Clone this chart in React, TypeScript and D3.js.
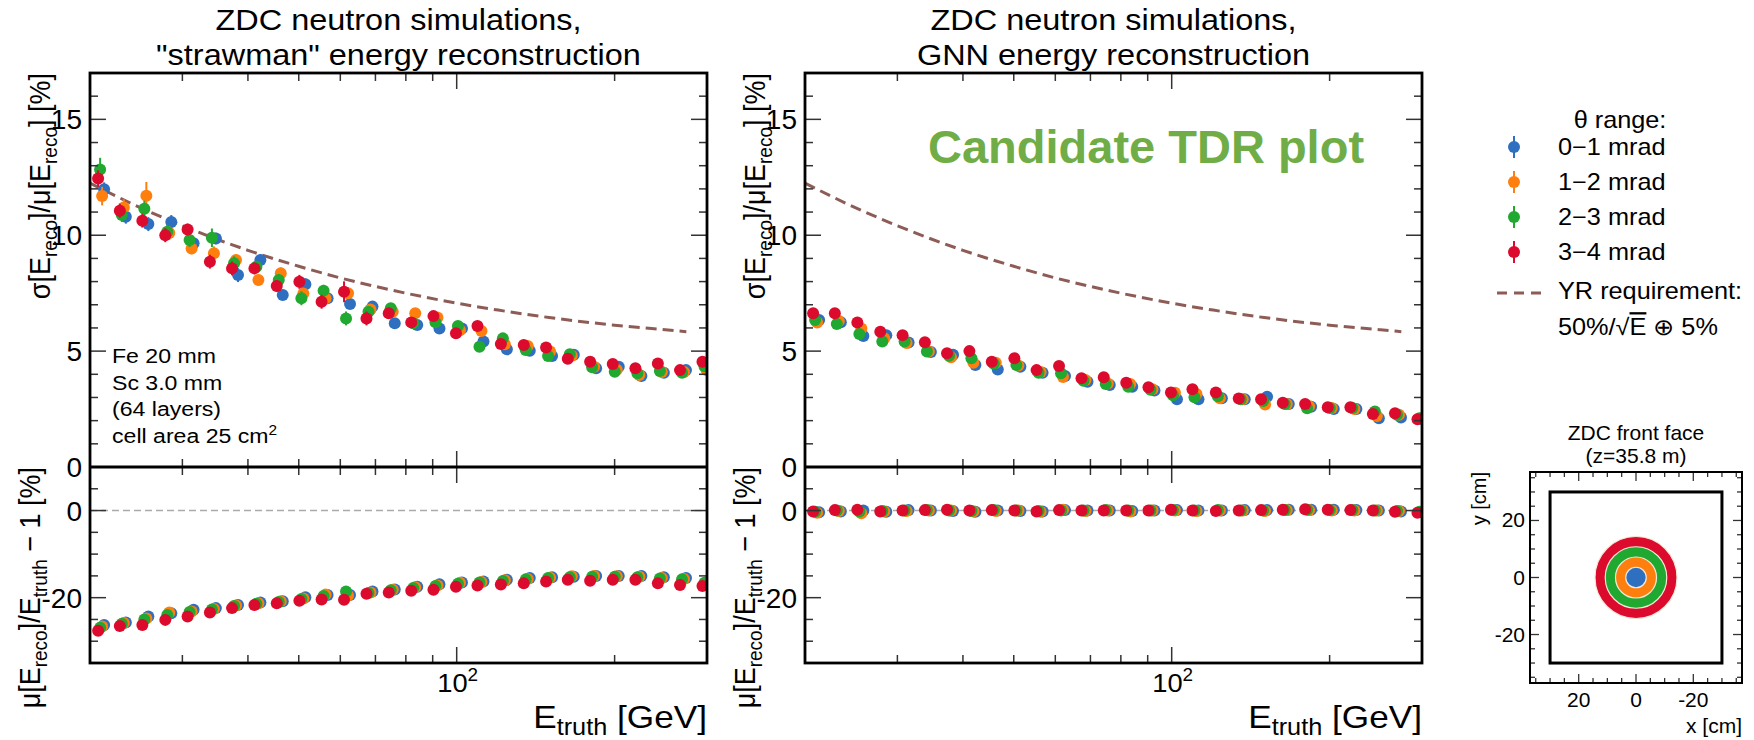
import React from 'react';
import * as d3 from 'd3';

// ---------------- data ----------------
const energies = [21.0, 23.1, 25.5, 28.2, 31.1, 34.3, 37.8, 41.7, 46.0, 50.8, 56.0, 61.8, 68.2, 75.2, 83.0, 91.5, 101, 111, 123, 136, 150, 165, 182, 201, 222, 245, 270, 298];

const seriesNames = ['0\u22121 mrad', '1\u22122 mrad', '2\u22123 mrad', '3\u22124 mrad'];
const seriesColors = ['#2f6fc0', '#ff7f0e', '#20a830', '#dc0a2c'];

// strawman: resolution [%]
const strawResBlue = [11.98, 10.80, 10.48, 10.57, 9.65, 9.86, 8.28, 8.93, 7.42, 7.89, 7.28, 7.03, 6.92, 6.20, 6.13, 5.98, 5.98, 5.41, 5.08, 5.02, 4.79, 4.84, 4.26, 4.33, 3.93, 4.07, 4.18, 4.30];
const strawResOrange = [11.69, 11.20, 11.70, 10.10, 9.43, 9.22, 8.93, 8.07, 8.36, 7.49, 7.28, 7.50, 6.80, 6.70, 6.63, 6.45, 5.90, 5.87, 5.30, 5.22, 4.98, 4.80, 4.33, 4.20, 3.97, 4.10, 4.10, 4.18];
const strawResGreen = [12.84, 10.87, 11.14, 10.15, 9.79, 9.89, 8.79, 8.64, 8.07, 7.28, 7.61, 6.41, 6.70, 6.85, 6.20, 6.25, 6.08, 5.19, 5.55, 5.05, 4.79, 4.87, 4.30, 4.11, 4.05, 4.14, 4.07, 4.35];
const strawResRed = [12.45, 11.06, 10.63, 10.00, 10.25, 8.86, 8.57, 8.57, 7.81, 7.99, 7.13, 7.56, 6.41, 6.63, 6.24, 6.51, 5.77, 6.08, 5.31, 5.26, 5.16, 4.67, 4.54, 4.44, 4.26, 4.47, 4.18, 4.54];

const strawErrBlue = [0.30, 0.30, 0.30, 0.30, 0.25, 0.25, 0.30, 0.25, 0.20, 0.25, 0.20, 0.20, 0.20, 0.15, 0.15, 0.15, 0.15, 0.15, 0.12, 0.12, 0.12, 0.10, 0.10, 0.10, 0.10, 0.10, 0.10, 0.10];
const strawErrOrange = [0.40, 0.35, 0.60, 0.30, 0.25, 0.30, 0.25, 0.25, 0.25, 0.20, 0.20, 0.25, 0.20, 0.15, 0.20, 0.15, 0.15, 0.15, 0.12, 0.12, 0.12, 0.10, 0.10, 0.10, 0.10, 0.10, 0.10, 0.10];
const strawErrGreen = [0.50, 0.30, 0.35, 0.30, 0.30, 0.40, 0.30, 0.25, 0.25, 0.30, 0.25, 0.30, 0.20, 0.20, 0.15, 0.15, 0.15, 0.15, 0.15, 0.12, 0.12, 0.12, 0.10, 0.10, 0.10, 0.10, 0.10, 0.10];
const strawErrRed = [0.35, 0.30, 0.30, 0.30, 0.25, 0.30, 0.30, 0.25, 0.25, 0.30, 0.30, 0.45, 0.30, 0.20, 0.20, 0.15, 0.15, 0.15, 0.12, 0.12, 0.12, 0.10, 0.10, 0.10, 0.10, 0.10, 0.10, 0.10];

// strawman: bias [%]
const strawBiasBlue = [-26.3, -25.7, -24.3, -23.6, -22.8, -22.4, -21.7, -21.1, -20.8, -19.9, -19.4, -19.4, -18.6, -18.1, -17.5, -16.9, -16.5, -16.3, -15.9, -15.5, -15.3, -15.2, -15.0, -15.0, -15.0, -15.3, -15.5, -16.4];
const strawBiasOrange = [-26.6, -25.8, -24.8, -23.4, -23.2, -22.6, -21.8, -21.3, -20.8, -20.2, -19.3, -19.5, -18.8, -18.2, -17.6, -17.2, -16.6, -16.4, -16.0, -15.7, -15.4, -15.1, -15.0, -15.1, -15.2, -15.5, -15.7, -16.5];
const strawBiasGreen = [-26.9, -26.0, -25.0, -24.0, -23.3, -22.7, -21.9, -21.4, -21.0, -20.3, -19.6, -18.6, -18.9, -18.3, -17.8, -17.3, -16.8, -16.5, -16.2, -15.8, -15.5, -15.3, -15.2, -15.2, -15.3, -15.6, -15.8, -16.6];
const strawBiasRed = [-27.6, -26.5, -26.3, -25.1, -24.3, -23.4, -22.4, -21.7, -21.3, -20.7, -20.4, -20.5, -19.1, -18.8, -18.4, -18.2, -17.5, -17.2, -17.0, -16.7, -16.3, -15.9, -16.1, -15.9, -15.9, -16.7, -17.1, -17.3];

// GNN: resolution [%]
const gnnResBlue = [6.34, 6.25, 5.65, 5.69, 5.37, 4.96, 4.84, 4.40, 4.21, 4.33, 4.07, 3.93, 3.68, 3.54, 3.46, 3.30, 2.92, 2.92, 2.97, 2.92, 3.03, 2.72, 2.60, 2.50, 2.50, 2.10, 2.14, 2.05];
const gnnResOrange = [6.23, 6.30, 5.98, 5.55, 5.35, 4.98, 4.74, 4.50, 4.50, 4.38, 4.10, 3.88, 3.75, 3.60, 3.58, 3.35, 3.20, 3.15, 2.97, 2.92, 2.70, 2.72, 2.62, 2.55, 2.50, 2.20, 2.25, 2.10];
const gnnResGreen = [6.34, 6.17, 5.74, 5.41, 5.41, 4.98, 4.80, 4.69, 4.45, 4.40, 4.07, 4.04, 3.72, 3.58, 3.46, 3.33, 3.10, 3.01, 3.05, 2.92, 2.85, 2.72, 2.53, 2.55, 2.55, 2.39, 2.25, 2.10];
const gnnResRed = [6.63, 6.63, 6.23, 5.84, 5.69, 5.38, 4.91, 5.00, 4.54, 4.69, 4.18, 4.36, 3.83, 3.87, 3.64, 3.44, 3.21, 3.35, 3.21, 2.96, 2.92, 2.77, 2.72, 2.58, 2.58, 2.29, 2.32, 2.06];
const gnnErr = [0.10, 0.10, 0.10, 0.10, 0.10, 0.08, 0.08, 0.08, 0.08, 0.08, 0.07, 0.07, 0.07, 0.07, 0.06, 0.06, 0.06, 0.06, 0.05, 0.05, 0.05, 0.05, 0.05, 0.05, 0.05, 0.05, 0.05, 0.05];

// GNN: bias [%]
const gnnBiasBlue = [-0.4, -0.2, 0.0, -0.3, 0.1, 0.0, -0.1, -0.3, 0.0, -0.1, -0.2, 0.1, 0.0, 0.0, -0.1, 0.0, 0.1, 0.0, 0.0, 0.1, 0.1, 0.2, 0.2, 0.2, 0.1, 0.0, -0.2, -0.4];
const gnnBiasOrange = [-0.5, -0.1, -0.6, -0.2, -0.1, 0.0, 0.0, -0.2, -0.1, 0.0, -0.3, 0.2, -0.1, 0.0, -0.2, 0.0, 0.0, -0.1, 0.0, 0.0, -0.1, 0.1, 0.1, 0.0, 0.0, 0.0, -0.1, -0.3];
const gnnBiasGreen = [-0.3, 0.0, -0.2, -0.1, 0.0, 0.1, 0.0, -0.1, 0.1, 0.0, -0.1, 0.0, 0.0, 0.1, 0.0, 0.0, 0.1, 0.0, 0.1, 0.0, 0.0, 0.1, 0.2, 0.1, 0.1, 0.0, -0.1, -0.3];
const gnnBiasRed = [-0.2, 0.1, 0.2, -0.2, 0.0, 0.1, 0.2, 0.0, 0.1, 0.0, -0.2, 0.1, 0.0, 0.0, 0.0, 0.0, 0.2, 0.0, -0.1, 0.0, 0.1, 0.2, 0.3, 0.2, 0.1, 0.0, -0.3, -0.5];

// YR requirement 50%/sqrt(E) (+) 5%
const yrEnergy = [20, 25, 30, 40, 50, 60, 70, 80, 100, 120, 150, 200, 250, 274];
const yrValue = [12.25, 11.18, 10.41, 9.35, 8.66, 8.16, 7.79, 7.50, 7.07, 6.77, 6.45, 6.12, 5.92, 5.84];

// inset: ZDC front face
const ringRadiusCm = [3.58, 7.16, 10.74, 14.32];
const zdcHalfSizeCm = 30;
const insetTicks = [20, 0, -20];

const xMinorTicks = [30, 40, 50, 60, 70, 80, 90, 200];
const xMajorTicks = [100];
const upperMajorTicks = [0, 5, 10, 15];
const lowerMajorTicks = [0, -20];

// ---------------- layout ----------------
const W = 1754, H = 740;
const TOP = 73, MID = 467, BOT = 663;
const FONT = "'Liberation Sans', Arial, Helvetica, sans-serif";
const SX = 1.1;
const seriesDx = [3, 1, -1, -3];
const YR_COLOR = '#8e5c56';
const R_DOT = 6;

function T({ x, y, size, anchor = 'start', rotate = 0, sx = SX, fill = '#000', weight = 'normal', children }: any) {
  const tr = `translate(${x},${y}) scale(${sx},1)` + (rotate ? ` rotate(${rotate})` : '');
  return (
    <text transform={tr} fontSize={size} textAnchor={anchor} fill={fill} fontWeight={weight} fontFamily={FONT}>
      {children}
    </text>
  );
}

function Panel({ id, x0, x1, title, res, errs, bias, box }: any) {
  const x = d3.scaleLog().domain([20, 300]).range([x0, x1]);
  const yU = d3.scaleLinear().domain([0, 17]).range([MID, TOP]);
  const yL = d3.scaleLinear().domain([-35, 10]).range([BOT, MID]);
  const yrLine = d3.line<number>().x((_, i) => x(yrEnergy[i])).y((d) => yU(d)).curve(d3.curveMonotoneX)(yrValue) || '';
  const tickC = '#333';
  const MAJ = 16, MIN = 8;
  const upperMinor = d3.range(0, 18).filter((v) => v % 5 !== 0);
  const lowerMinor = d3.range(-35, 11, 5).filter((v) => v % 20 !== 0);
  const xt = [...xMinorTicks.map((v) => [v, MIN]), ...xMajorTicks.map((v) => [v, MAJ])];
  return (
    <g>
      <defs>
        <clipPath id={`cu${id}`}><rect x={x0} y={TOP} width={x1 - x0} height={MID - TOP} /></clipPath>
        <clipPath id={`cl${id}`}><rect x={x0} y={MID} width={x1 - x0} height={BOT - MID} /></clipPath>
      </defs>
      {/* title */}
      <T x={(x0 + x1) / 2} y={30} size={29} anchor="middle" sx={1.12}>{title[0]}</T>
      <T x={(x0 + x1) / 2} y={65} size={29} anchor="middle" sx={1.12}>{title[1]}</T>

      {/* upper panel content */}
      <g clipPath={`url(#cu${id})`}>
        <path d={yrLine} fill="none" stroke={YR_COLOR} strokeWidth={3} strokeDasharray="11 6" />
        {res.map((arr: number[], s: number) => (
          <g key={s} fill={seriesColors[s]} stroke={seriesColors[s]}>
            {arr.map((v, i) => {
              const cx = x(energies[i]) + seriesDx[s];
              const e = errs[s][i];
              return (
                <g key={i}>
                  <line x1={cx} x2={cx} y1={yU(v - e)} y2={yU(v + e)} strokeWidth={2} />
                  <circle cx={cx} cy={yU(v)} r={R_DOT} stroke="none" />
                </g>
              );
            })}
          </g>
        ))}
      </g>

      {/* lower panel content */}
      <g clipPath={`url(#cl${id})`}>
        <line x1={x0} x2={x1} y1={yL(0)} y2={yL(0)} stroke="#aaa" strokeWidth={1.5} strokeDasharray="7 4" />
        {bias.map((arr: number[], s: number) => (
          <g key={s} fill={seriesColors[s]}>
            {arr.map((v, i) => (
              <circle key={i} cx={x(energies[i]) + seriesDx[s]} cy={yL(v)} r={R_DOT} />
            ))}
          </g>
        ))}
      </g>

      {/* ticks */}
      <g stroke={tickC} strokeWidth={1.5}>
        {upperMinor.map((v) => (
          <g key={'um' + v}>
            <line x1={x0} x2={x0 + MIN} y1={yU(v)} y2={yU(v)} />
            <line x1={x1} x2={x1 - MIN} y1={yU(v)} y2={yU(v)} />
          </g>
        ))}
        {upperMajorTicks.map((v) => (
          <g key={'uM' + v}>
            <line x1={x0} x2={x0 + MAJ} y1={yU(v)} y2={yU(v)} />
            <line x1={x1} x2={x1 - MAJ} y1={yU(v)} y2={yU(v)} />
          </g>
        ))}
        {lowerMinor.map((v) => (
          <g key={'lm' + v}>
            <line x1={x0} x2={x0 + MIN} y1={yL(v)} y2={yL(v)} />
            <line x1={x1} x2={x1 - MIN} y1={yL(v)} y2={yL(v)} />
          </g>
        ))}
        {lowerMajorTicks.map((v) => (
          <g key={'lM' + v}>
            <line x1={x0} x2={x0 + MAJ} y1={yL(v)} y2={yL(v)} />
            <line x1={x1} x2={x1 - MAJ} y1={yL(v)} y2={yL(v)} />
          </g>
        ))}
        {xt.map(([v, len]) => (
          <g key={'x' + v}>
            <line x1={x(v)} x2={x(v)} y1={TOP} y2={TOP + len} />
            <line x1={x(v)} x2={x(v)} y1={MID} y2={MID - len} />
            <line x1={x(v)} x2={x(v)} y1={MID} y2={MID + len} />
            <line x1={x(v)} x2={x(v)} y1={BOT} y2={BOT - len} />
          </g>
        ))}
      </g>

      {/* frames */}
      <rect x={x0} y={TOP} width={x1 - x0} height={BOT - TOP} fill="none" stroke="#000" strokeWidth={2.8} />
      <line x1={x0} x2={x1} y1={MID} y2={MID} stroke="#000" strokeWidth={2.8} />

      {/* tick labels */}
      {upperMajorTicks.map((v) => (
        <T key={'ul' + v} x={x0 - 8} y={yU(v) + 10} size={28} anchor="end" sx={1.0}>{String(v)}</T>
      ))}
      {lowerMajorTicks.map((v) => (
        <T key={'ll' + v} x={x0 - 8} y={yL(v) + 10} size={28} anchor="end" sx={1.0}>{String(v)}</T>
      ))}
      {xMajorTicks.map((v) => (
        <T key={'xl' + v} x={x(v) + 1} y={692} size={26} anchor="middle" sx={1.05}>
          10<tspan dy={-11} fontSize={18}>2</tspan>
        </T>
      ))}

      {/* axis labels */}
      <T x={x0 - 40} y={TOP} size={27} anchor="end" rotate={-90}>
        σ[E<tspan dy={6} fontSize={19}>reco</tspan><tspan dy={-6}>]/μ[E</tspan><tspan dy={6} fontSize={19}>reco</tspan><tspan dy={-6}>] [%]</tspan>
      </T>
      <T x={x0 - 50} y={MID} size={27} anchor="end" rotate={-90}>
        μ[E<tspan dy={6} fontSize={19}>reco</tspan><tspan dy={-6}>]/E</tspan><tspan dy={6} fontSize={19}>truth</tspan><tspan dy={-6}>{' \u2212 1  [%]'}</tspan>
      </T>
      <T x={x1} y={728} size={32} anchor="end">
        E<tspan dy={7} fontSize={23}>truth</tspan><tspan dy={-7}> [GeV]</tspan>
      </T>

      {box && (
        <g>
          <T x={x0 + 22} y={363} size={21}>Fe 20 mm</T>
          <T x={x0 + 22} y={390} size={21}>Sc 3.0 mm</T>
          <T x={x0 + 22} y={416} size={21}>(64 layers)</T>
          <T x={x0 + 22} y={443} size={21}>
            cell area 25 cm<tspan dy={-8} fontSize={14}>2</tspan>
          </T>
        </g>
      )}
    </g>
  );
}

function Legend() {
  const rowsY = [147, 182, 217, 252];
  return (
    <g>
      <T x={1620} y={128} size={23} anchor="middle">θ range:</T>
      {seriesNames.map((n, s) => (
        <g key={n}>
          <line x1={1514} x2={1514} y1={rowsY[s] - 11} y2={rowsY[s] + 11} stroke={seriesColors[s]} strokeWidth={2} />
          <circle cx={1514} cy={rowsY[s]} r={R_DOT} fill={seriesColors[s]} />
          <T x={1558} y={rowsY[s] + 8} size={23}>{n}</T>
        </g>
      ))}
      <line x1={1497} x2={1541} y1={293} y2={293} stroke={YR_COLOR} strokeWidth={3} strokeDasharray="10 7" />
      <T x={1558} y={299} size={23}>YR requirement:</T>
      <T x={1558} y={335} size={23}>
        50%/√<tspan style={{ textDecoration: 'overline' }}>E</tspan>{' \u2295 5%'}
      </T>
    </g>
  );
}

function Inset() {
  const L = 1530, R = 1742, Tp = 472, B = 683;
  const x = d3.scaleLinear().domain([37, -37]).range([L, R]);
  const y = d3.scaleLinear().domain([-37, 37]).range([B, Tp]);
  const minor = d3.range(-35, 36, 5);
  const pxPerCm = Math.abs(x(1) - x(0));
  return (
    <g>
      <T x={(L + R) / 2} y={440} size={20} anchor="middle" sx={1.05}>ZDC front face</T>
      <T x={(L + R) / 2} y={463} size={20} anchor="middle" sx={1.05}>(z=35.8 m)</T>
      <rect x={x(zdcHalfSizeCm)} y={y(zdcHalfSizeCm)} width={x(-zdcHalfSizeCm) - x(zdcHalfSizeCm)} height={y(-zdcHalfSizeCm) - y(zdcHalfSizeCm)} fill="none" stroke="#000" strokeWidth={3} />
      {[...ringRadiusCm].reverse().map((r, k) => (
        <circle key={r} cx={x(0)} cy={y(0)} r={r * pxPerCm} fill={seriesColors[3 - k]} stroke="#f3ead8" strokeWidth={1.2} />
      ))}
      <g stroke="#333" strokeWidth={1.3}>
        {minor.map((v) => {
          const len = v % 20 === 0 ? 9 : 5;
          return (
            <g key={v}>
              <line x1={x(v)} x2={x(v)} y1={Tp} y2={Tp + len} />
              <line x1={x(v)} x2={x(v)} y1={B} y2={B - len} />
              <line x1={L} x2={L + len} y1={y(v)} y2={y(v)} />
              <line x1={R} x2={R - len} y1={y(v)} y2={y(v)} />
            </g>
          );
        })}
      </g>
      <rect x={L} y={Tp} width={R - L} height={B - Tp} fill="none" stroke="#000" strokeWidth={2} />
      {insetTicks.map((v) => (
        <g key={v}>
          <T x={x(v)} y={707} size={20} anchor="middle" sx={1.05}>{String(v)}</T>
          <T x={L - 5} y={y(v) + 7} size={20} anchor="end" sx={1.05}>{String(v)}</T>
        </g>
      ))}
      <T x={R} y={733} size={20} anchor="end" sx={1.05}>x [cm]</T>
      <T x={1486} y={Tp} size={20} anchor="end" rotate={-90} sx={1.05}>y [cm]</T>
    </g>
  );
}

export default function App() {
  return (
    <svg width={W} height={H} style={{ position: 'absolute', left: 0, top: 0, background: '#fff' }}>
      <rect width={W} height={H} fill="#fff" />
      <Panel
        id="a"
        x0={90}
        x1={707}
        title={['ZDC neutron simulations,', '"strawman" energy reconstruction']}
        res={[strawResBlue, strawResOrange, strawResGreen, strawResRed]}
        errs={[strawErrBlue, strawErrOrange, strawErrGreen, strawErrRed]}
        bias={[strawBiasBlue, strawBiasOrange, strawBiasGreen, strawBiasRed]}
        box
      />
      <Panel
        id="b"
        x0={805}
        x1={1422}
        title={['ZDC neutron simulations,', 'GNN energy reconstruction']}
        res={[gnnResBlue, gnnResOrange, gnnResGreen, gnnResRed]}
        errs={[gnnErr, gnnErr, gnnErr, gnnErr]}
        bias={[gnnBiasBlue, gnnBiasOrange, gnnBiasGreen, gnnBiasRed]}
      />
      <text x={928} y={163} fontSize={47} fontWeight="bold" fill="#70ad47" fontFamily={FONT}>Candidate TDR plot</text>
      <Legend />
      <Inset />
    </svg>
  );
}
